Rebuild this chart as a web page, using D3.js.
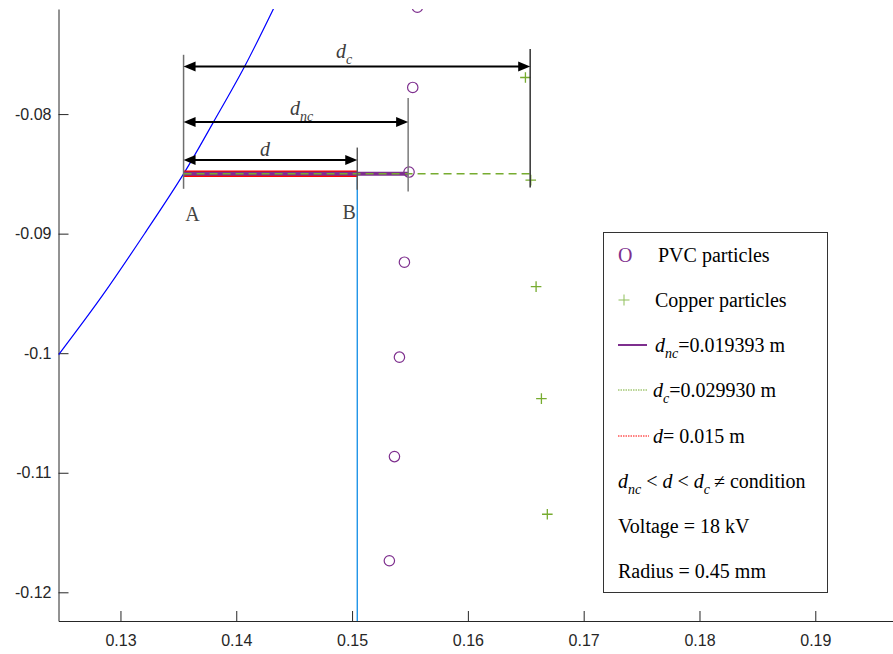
<!DOCTYPE html>
<html>
<head>
<meta charset="utf-8">
<script src="https://cdn.jsdelivr.net/npm/d3@7"></script>
<style>
  body { margin: 0; background: #fff; }
  svg { display: block; }
</style>
</head>
<body>
<svg id="chart" width="893" height="654"></svg>
<script>
// ==========================
// DATA
// ==========================
const pvcX = [0.15564, 0.15524, 0.15492, 0.15452, 0.15409, 0.15366, 0.15322];
const pvcY = [-0.07106, -0.07777, -0.08485, -0.09239, -0.10033, -0.10865, -0.11736];

const copperX = [0.16497, 0.16543, 0.16589, 0.16635, 0.16686];
const copperY = [-0.07694, -0.08552, -0.09443, -0.10380, -0.11347];

// electrode edge
const electrodeX = [0.12465, 0.12842, 0.13213, 0.13545, 0.13803, 0.14072, 0.14326];
const electrodeY = [-0.10014, -0.09521, -0.08993, -0.08500, -0.08067, -0.07602, -0.07110];

const pointA = [0.13545, -0.085];
const dNc = 0.019393;
const dC = 0.029930;
const dCrit = 0.015;

const xTicks = [0.13, 0.14, 0.15, 0.16, 0.17, 0.18, 0.19];
const yTicks = [-0.08, -0.09, -0.1, -0.11, -0.12];

// ==========================
// SETUP
// ==========================
const serif = '"Liberation Serif", "Times New Roman", serif';
const sans = '"Liberation Sans", Arial, sans-serif';
const purple = "#7E2F8E";
const green = "#77AC30";

const plot = { left: 58.5, top: 9, right: 893, bottom: 621 };

const svg = d3.select("#chart");

const x = d3.scaleLinear().domain([0.12465, 0.19671]).range([plot.left, plot.right]);
const y = d3.scaleLinear().domain([-0.12240, -0.07121]).range([plot.bottom, plot.top]);

svg.append("defs").append("clipPath")
    .attr("id", "plot-clip")
  .append("rect")
    .attr("x", plot.left)
    .attr("y", plot.top)
    .attr("width", plot.right - plot.left)
    .attr("height", plot.bottom - plot.top);

const fmt = d => String(Math.round(d * 100) / 100);

// axes
const xAxis = svg.append("g")
    .attr("transform", `translate(0,${plot.bottom})`)
    .call(d3.axisBottom(x).tickValues(xTicks).tickFormat(fmt)
      .tickSizeInner(-10).tickSizeOuter(0).tickPadding(14));

const yAxis = svg.append("g")
    .attr("transform", `translate(${plot.left},0)`)
    .call(d3.axisLeft(y).tickValues(yTicks).tickFormat(fmt)
      .tickSizeInner(-10).tickSizeOuter(0).tickPadding(7));

[xAxis, yAxis].forEach(ax => {
  ax.selectAll("path, line").attr("stroke", "#262626").attr("stroke-width", 1);
  ax.selectAll("text")
    .attr("fill", "#262626")
    .style("font-family", sans)
    .style("font-size", "16px");
});

const g = svg.append("g").attr("clip-path", "url(#plot-clip)");

// ==========================
// ELECTRODE + CRITICAL LINE
// ==========================
const electrode = electrodeX.map((v, i) => [v, electrodeY[i]]);
g.append("path")
    .datum(electrode)
    .attr("fill", "none")
    .attr("stroke", "#0000FF")
    .attr("stroke-width", 1.2)
    .attr("d", d3.line().x(d => x(d[0])).y(d => y(d[1])).curve(d3.curveCatmullRom.alpha(0.5)));

const xB = pointA[0] + dCrit;
g.append("line")
    .attr("x1", x(xB)).attr("x2", x(xB))
    .attr("y1", y(pointA[1])).attr("y2", plot.bottom)
    .attr("stroke", "#1f94e8")
    .attr("stroke-width", 1.4);

// distance lines along y = -0.085
g.append("line")
    .attr("x1", x(pointA[0])).attr("x2", x(pointA[0] + dCrit))
    .attr("y1", y(pointA[1])).attr("y2", y(pointA[1]))
    .attr("stroke", "#FF0000").attr("stroke-width", 6.5);

g.append("line")
    .attr("x1", x(pointA[0])).attr("x2", x(pointA[0] + dNc))
    .attr("y1", y(pointA[1])).attr("y2", y(pointA[1]))
    .attr("stroke", purple).attr("stroke-width", 4);

g.append("line")
    .attr("x1", x(pointA[0])).attr("x2", x(pointA[0] + dC))
    .attr("y1", y(pointA[1])).attr("y2", y(pointA[1]))
    .attr("stroke", green).attr("stroke-width", 1.5)
    .attr("stroke-dasharray", "8,5");

// ==========================
// PARTICLES
// ==========================
g.selectAll(".pvc")
  .data(pvcX.map((v, i) => [v, pvcY[i]]))
  .enter()
  .append("circle")
    .attr("class", "pvc")
    .attr("cx", d => x(d[0]))
    .attr("cy", d => y(d[1]))
    .attr("r", 5.2)
    .attr("fill", "none")
    .attr("stroke", purple)
    .attr("stroke-width", 1.2);

const cross = sel => sel.attr("d", d => {
  const cx = x(d[0]), cy = y(d[1]), s = 5.3;
  return `M${cx - s},${cy}H${cx + s}M${cx},${cy - s}V${cy + s}`;
});
g.selectAll(".copper")
  .data(copperX.map((v, i) => [v, copperY[i]]))
  .enter()
  .append("path")
    .attr("class", "copper")
    .attr("stroke", green)
    .attr("stroke-width", 1.3)
    .call(cross);

// ==========================
// DIMENSION ANNOTATIONS
// ==========================
const ann = svg.append("g");

function extLine(xv, y1, y2, color) {
  ann.append("line")
    .attr("x1", x(xv)).attr("x2", x(xv))
    .attr("y1", y(y1)).attr("y2", y(y2))
    .attr("stroke", color).attr("stroke-width", 1.5);
}
extLine(pointA[0], -0.07504, -0.08625, "#6e6e6e");
extLine(pointA[0] + dCrit, -0.08280, -0.08633, "#5a5a5a");
extLine(pointA[0] + dNc, -0.07866, -0.08648, "#7a7a7a");
extLine(pointA[0] + dC, -0.07456, -0.08614, "#333");

function arrow(x1v, x2v, yv) {
  const x1 = x(x1v), x2 = x(x2v), yy = y(yv), L = 12, H = 5;
  ann.append("line")
    .attr("x1", x1 + L - 1).attr("x2", x2 - L + 1)
    .attr("y1", yy).attr("y2", yy)
    .attr("stroke", "#000").attr("stroke-width", 2);
  ann.append("path")
    .attr("d", `M${x1},${yy}L${x1 + L},${yy - H}L${x1 + L},${yy + H}Z`)
    .attr("fill", "#000");
  ann.append("path")
    .attr("d", `M${x2},${yy}L${x2 - L},${yy - H}L${x2 - L},${yy + H}Z`)
    .attr("fill", "#000");
}
arrow(pointA[0], pointA[0] + dC, -0.07602);
arrow(pointA[0], pointA[0] + dNc, -0.08067);
arrow(pointA[0], pointA[0] + dCrit, -0.08385);

function richText(parent, px, py, parts, size, color, anchor) {
  const t = parent.append("text")
    .attr("x", px).attr("y", py)
    .attr("fill", color)
    .attr("text-anchor", anchor || "start")
    .style("font-family", serif)
    .style("font-size", size + "px");
  let shift = 0;
  parts.forEach(p => {
    const want = p.sub ? Math.round(size * 0.28) : 0;
    t.append("tspan")
      .attr("dy", want - shift)
      .style("font-style", p.it ? "italic" : "normal")
      .style("font-size", (p.sub ? Math.round(size * 0.68) : size) + "px")
      .text(p.t);
    shift = want;
  });
  return t;
}

richText(ann, x(0.14931), y(-0.07602) - 9, [{ t: "d", it: 1 }, { t: "c", it: 1, sub: 1 }], 20, "#3c3c3c", "middle");
richText(ann, x(0.14564), y(-0.08067) - 7.5, [{ t: "d", it: 1 }, { t: "nc", it: 1, sub: 1 }], 20, "#3c3c3c", "middle");
richText(ann, x(0.14249), y(-0.08385) - 4.5, [{ t: "d", it: 1 }], 20, "#3c3c3c", "middle");

richText(ann, x(pointA[0]) + 9, 220.5, [{ t: "A" }], 20, "#444", "middle");
richText(ann, x(xB) - 8, 219, [{ t: "B" }], 20, "#444", "middle");

// ==========================
// LEGEND
// ==========================
const leg = svg.append("g");
leg.append("rect")
    .attr("x", 603.5).attr("y", 232.5)
    .attr("width", 224).attr("height", 360)
    .attr("fill", "#fff")
    .attr("stroke", "#333")
    .attr("stroke-width", 1);

const rowY = [255, 300, 345, 390, 436, 481.5, 526.5, 571.5];

richText(leg, 618, rowY[0] + 6.5, [{ t: "O" }], 20, purple);
richText(leg, 658, rowY[0] + 6.5, [{ t: "PVC particles" }], 20, "#000");

leg.append("path")
    .attr("d", `M618.5,${rowY[1]}H629.5M624,${rowY[1] - 5.5}V${rowY[1] + 5.5}`)
    .attr("stroke", "#8fbf5a").attr("stroke-width", 1);
richText(leg, 655, rowY[1] + 6.5, [{ t: "Copper particles" }], 20, "#000");

leg.append("line")
    .attr("x1", 618).attr("x2", 647).attr("y1", rowY[2]).attr("y2", rowY[2])
    .attr("stroke", purple).attr("stroke-width", 2);
richText(leg, 655, rowY[2] + 6.5,
  [{ t: "d", it: 1 }, { t: "nc", it: 1, sub: 1 }, { t: "=" + dNc.toFixed(6) + " m" }], 20, "#000");

leg.append("line")
    .attr("x1", 618).attr("x2", 648).attr("y1", rowY[3]).attr("y2", rowY[3])
    .attr("stroke", green).attr("stroke-width", 1).attr("stroke-dasharray", "1.5,1");
richText(leg, 653, rowY[3] + 6.5,
  [{ t: "d", it: 1 }, { t: "c", it: 1, sub: 1 }, { t: "=" + dC.toFixed(6) + " m" }], 20, "#000");

leg.append("line")
    .attr("x1", 618).attr("x2", 649).attr("y1", rowY[4]).attr("y2", rowY[4])
    .attr("stroke", "#FF0000").attr("stroke-width", 1).attr("stroke-dasharray", "1.5,1");
richText(leg, 653, rowY[4] + 6.5,
  [{ t: "d", it: 1 }, { t: "= " + dCrit.toFixed(3) + " m" }], 20, "#000");

richText(leg, 618, rowY[5] + 6.5,
  [{ t: "d", it: 1 }, { t: "nc", it: 1, sub: 1 }, { t: " < " }, { t: "d", it: 1 }, { t: " < " },
   { t: "d", it: 1 }, { t: "c", it: 1, sub: 1 }, { t: "\u2009\u2260 condition" }], 20, "#000");

richText(leg, 618, rowY[6] + 6.5, [{ t: "Voltage = 18 kV" }], 20, "#000");
richText(leg, 618, rowY[7] + 6.5, [{ t: "Radius = 0.45 mm" }], 20, "#000");
</script>
</body>
</html>
